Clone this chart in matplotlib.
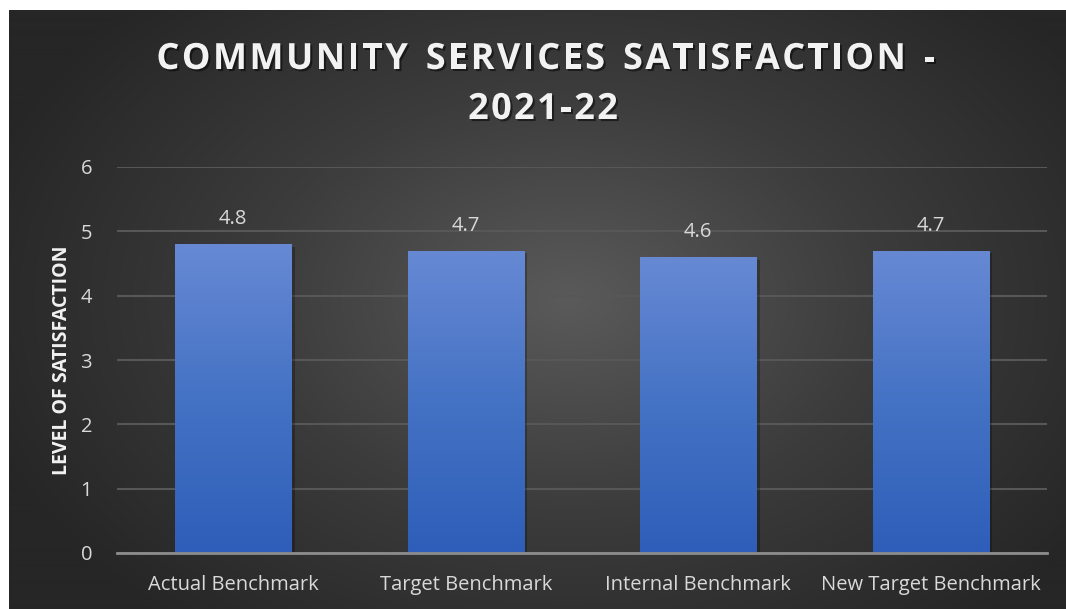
import matplotlib
matplotlib.use("Agg")
import matplotlib.pyplot as plt
import matplotlib.patheffects as pe
import numpy as np
from matplotlib.colors import LinearSegmentedColormap

plt.rcParams['font.family'] = ['Open Sans', 'DejaVu Sans']

categories = ['Actual Benchmark', 'Target Benchmark', 'Internal Benchmark', 'New Target Benchmark']
values = [4.8, 4.7, 4.6, 4.7]
yticks = [0, 1, 2, 3, 4, 5, 6]
title_lines = ['COMMUNITY SERVICES SATISFACTION -', '2021-22']

W, H = 1066, 609
fig = plt.figure(figsize=(W / 100, H / 100), dpi=100)
fig.patch.set_facecolor('white')

# dark panel with a soft radial glow in the middle
bg = fig.add_axes([9 / W, 0, 1 - 9 / W, 1 - 10 / H])
bg.set_axis_off()
yy, xx = np.mgrid[0:600, 0:1057]
cx, cy = 560, 290
r = np.sqrt(((xx - cx) / 620.0) ** 2 + ((yy - cy) / 420.0) ** 2)
r = np.clip(r, 0, 1)
bg_cmap = LinearSegmentedColormap.from_list('bg', ['#5a5a5a', '#3c3c3c', '#262626'])
bg.imshow(r, cmap=bg_cmap, aspect='auto', extent=[0, 1, 0, 1], vmin=0, vmax=1)
bg.set_xlim(0, 1)
bg.set_ylim(0, 1)

ax = fig.add_axes([117 / W, 1 - 553 / H, (1047 - 117) / W, (553 - 167) / H])
ax.patch.set_alpha(0)
x = np.arange(len(categories))
bars = ax.bar(x, values, width=0.5, color='none', zorder=3)

bar_cmap = LinearSegmentedColormap.from_list('bar', ['#2e5eb9', '#4472c4', '#6789d4'])
grad = np.linspace(0, 1, 256).reshape(-1, 1)
for b in bars:
    x0, w, h = b.get_x(), b.get_width(), b.get_height()
    # faint drop shadow
    ax.add_patch(plt.Rectangle((x0 + 0.015, 0), w, h - 0.04, color='black',
                               alpha=0.25, zorder=2, lw=0))
    im = ax.imshow(grad, cmap=bar_cmap, origin='lower', aspect='auto',
                   extent=[x0, x0 + w, 0, h], zorder=3)
    im.set_clip_path(b)

for xi, v in zip(x, values):
    ax.text(xi, v + 0.39, f'{v}', ha='center', va='center', fontsize=14.5,
            color='#d9d9d9', zorder=4)

ax.set_xlim(-0.5, len(categories) - 0.5)
ax.set_ylim(0, 6)
ax.set_yticks(yticks)
ax.set_xticks(x)
ax.set_xticklabels(categories)
ax.tick_params(axis='both', length=0, labelsize=14.5, labelcolor='#d9d9d9')
ax.tick_params(axis='y', pad=18)
ax.tick_params(axis='x', pad=16)
ax.grid(axis='y', color='#575757', lw=1.5, zorder=1)
ax.set_axisbelow(True)
for s in ['top', 'right', 'left']:
    ax.spines[s].set_visible(False)
ax.spines['bottom'].set_color('#8c8c8c')
ax.spines['bottom'].set_linewidth(2)
ax.spines['bottom'].set_zorder(4)

ax.set_ylabel('LEVEL OF SATISFACTION', fontsize=14, fontweight='bold',
              color='#f2f2f2', labelpad=6)


def spaced_text(fig, xc, yc, s, spacing, **kw):
    """Draw s centred at (xc, yc) in pixels with extra tracking between letters."""
    renderer = fig.canvas.get_renderer()
    widths = []
    for ch in s:
        t = fig.text(0, 0, ch if ch != ' ' else 'n', **kw)
        widths.append(t.get_window_extent(renderer).width * (0.55 if ch == ' ' else 1))
        t.remove()
    total = sum(widths) + spacing * (len(s) - 1)
    xp = xc - total / 2
    for ch, wd in zip(s, widths):
        if ch != ' ':
            fig.text(xp / W, 1 - yc / H, ch, ha='left', va='center', **kw)
        xp += wd + spacing


title_kw = dict(fontsize=26, fontweight='bold', color='#f2f2f2',
                path_effects=[pe.withSimplePatchShadow(offset=(1.5, -1.5),
                                                       shadow_rgbFace='black', alpha=0.5)])
spaced_text(fig, 546, 60, title_lines[0], 2.4, **title_kw)
spaced_text(fig, 543, 110, title_lines[1], 2.4, **title_kw)

fig.savefig('out.png', dpi=100, facecolor=fig.get_facecolor())
